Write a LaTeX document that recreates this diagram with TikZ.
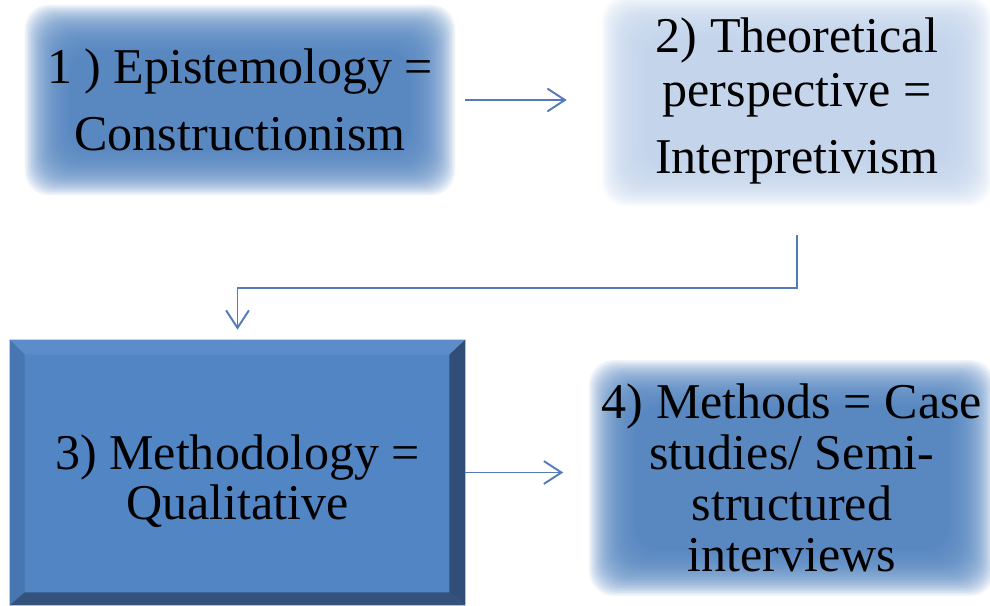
\documentclass[tikz,border=0pt]{standalone}
\usepackage{fontspec}
\setmainfont{Liberation Serif}
\usepackage{xcolor}
\usepackage{tikz}
\usetikzlibrary{arrows.meta}
\usetikzlibrary{backgrounds}

\definecolor{boxblue}{RGB}{79,129,189}
\definecolor{faceblue}{RGB}{82,133,196}
\definecolor{paleblue}{RGB}{192,210,234}
\definecolor{arrowblue}{RGB}{84,122,184}
\definecolor{bevellight}{RGB}{92,140,202}
\definecolor{bevelleft}{RGB}{72,118,176}
\definecolor{beveldark}{RGB}{48,78,120}
\definecolor{bevelbottom}{RGB}{52,82,124}

\begin{document}
\begin{tikzpicture}[
  x=0.02cm, y=-0.02cm,
  stage/.style={inner sep=0pt, align=center},
  glow/.style={opacity=0.09, rounded corners=14pt},
  flow/.style={draw=arrowblue, line width=1.1pt, -{Straight Barb[length=10pt,width=13pt]}}
]

\useasboundingbox (0,0) rectangle (990,605);

\node [stage, minimum width=8.6cm, minimum height=3.8cm,
  font=\fontsize{28.5}{38.5}\selectfont] (epist) at (240,100)
  {1 ) Epistemology =\\Constructionism};
\node [stage, minimum width=7.8cm, minimum height=4.2cm,
  font=\fontsize{28.5}{30.2}\selectfont] (theory) at (797,101)
  {2) Theoretical\\perspective =\\[8pt]Interpretivism};
\node [stage, fill=faceblue, minimum width=9.1cm, minimum height=5.3cm] (method) at (237.5,472.5) {};
\node [stage, font=\fontsize{28.5}{28.5}\selectfont] (methodtext) at (237.5,481)
  {3) Methodology =\\Qualitative};
\node [stage, minimum width=8.1cm, minimum height=4.7cm,
  font=\fontsize{28.5}{29}\selectfont] (methods) at (792,478)
  {4) Methods = Case\\studies/ Semi-\\structured\\interviews};

% soft edged boxes
\begin{scope}[on background layer]
\foreach \i in {0,...,30} {
  \fill [boxblue, glow] ([shift={(\i*1.6,\i*1.6)}]epist.north west) rectangle ([shift={(-\i*1.6,-\i*1.6)}]epist.south east);
  \fill [paleblue, glow] ([shift={(\i*1.6,\i*1.6)}]theory.north west) rectangle ([shift={(-\i*1.6,-\i*1.6)}]theory.south east);
  \fill [boxblue, glow] ([shift={(\i*1.6,\i*1.6)}]methods.north west) rectangle ([shift={(-\i*1.6,-\i*1.6)}]methods.south east);
}
\end{scope}

% bevel of box 3
\fill [bevellight] (method.north west) -- (method.north east) -- ([shift={(-16,15)}]method.north east) -- ([shift={(15,15)}]method.north west) -- cycle;
\fill [bevelleft] (method.north west) -- ([shift={(15,15)}]method.north west) -- ([shift={(15,-13)}]method.south west) -- (method.south west) -- cycle;
\fill [beveldark] (method.north east) -- (method.south east) -- ([shift={(-16,-13)}]method.south east) -- ([shift={(-16,15)}]method.north east) -- cycle;
\fill [bevelbottom] (method.south west) -- ([shift={(15,-13)}]method.south west) -- ([shift={(-16,-13)}]method.south east) -- (method.south east) -- cycle;

\draw [flow, shorten <=0.2cm, shorten >=0.7cm] (epist.east) -- (epist.east -| theory.west);
\draw [flow, shorten <=0.58cm, shorten >=0.2cm] (theory.south) -- ++(0,82) -| (method.north);
\draw [flow, shorten >=0.52cm] (method.east) -- (method.east -| methods.west);

\end{tikzpicture}
\end{document}
